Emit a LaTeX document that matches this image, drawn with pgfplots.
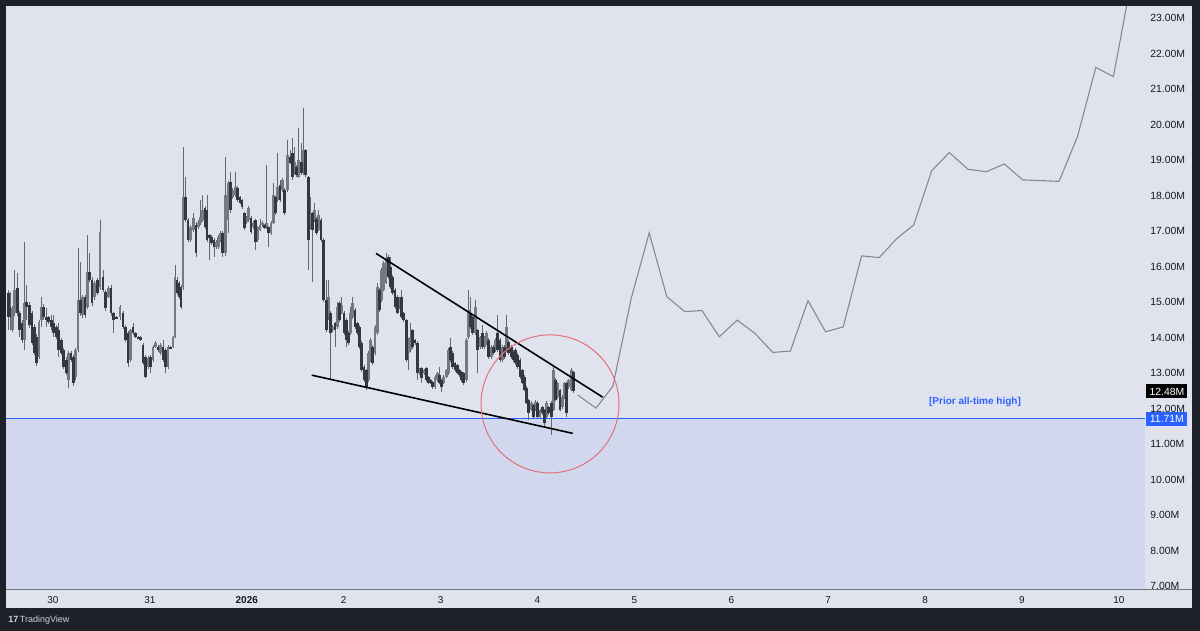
\documentclass[border=0pt]{standalone}
\usepackage{fontspec}
\setmainfont{Liberation Sans}
\usepackage{pgfplots}
\pgfplotsset{compat=1.18}
\usepackage{pgfplotstable}
\definecolor{frame}{RGB}{30,33,42}
\definecolor{panel}{RGB}{224,227,238}
\definecolor{zone}{RGB}{209,216,238}
\definecolor{tvblue}{RGB}{41,98,255}
\definecolor{txt}{RGB}{19,23,34}
\definecolor{upcol}{RGB}{118,121,129}
\definecolor{dncol}{RGB}{52,55,63}
\definecolor{wickc}{RGB}{100,103,111}
\definecolor{proj}{RGB}{134,137,147}
\definecolor{ring}{RGB}{226,112,122}
\definecolor{sep}{RGB}{110,114,125}

\pgfplotstableread{
t o hi lo c
-11.07 15.26 15.34 14.21 14.57
-10.65 14.86 15.28 14.21 14.57
-10.08 14.21 14.90 14.15 14.83
-9.49 14.69 15.90 14.62 15.34
-8.87 15.40 15.82 14.62 14.69
-8.30 14.69 14.75 14.01 14.21
-7.68 14.41 14.50 13.85 13.93
-7.06 13.93 16.69 13.65 14.98
-6.49 15.00 15.48 14.49 14.86
-5.87 14.92 15.00 14.28 14.35
-5.20 14.69 14.75 13.78 13.85
-4.58 14.30 14.38 13.50 13.57
-4.01 14.01 14.10 13.20 13.28
-3.47 13.45 14.50 13.40 14.45
-2.90 14.49 15.14 14.30 14.86
-2.28 14.86 14.95 14.50 14.57
-1.68 14.57 14.83 14.30 14.49
-1.07 14.57 14.62 14.38 14.44
-0.42 14.49 14.63 14.21 14.30
0.20 14.41 14.63 14.01 14.13
0.79 14.30 14.36 13.95 14.01
1.41 14.21 14.41 13.45 13.65
2.06 13.93 14.00 13.50 13.57
2.67 13.65 13.70 13.10 13.17
3.34 13.37 13.45 12.95 13.00
3.91 12.80 13.62 12.58 13.57
4.46 13.57 13.62 13.30 13.37
5.13 13.45 13.50 12.62 12.72
5.57 12.89 13.70 12.80 13.65
6.19 13.65 16.52 13.60 15.06
6.76 15.06 16.13 14.60 14.69
7.38 14.63 15.20 14.55 15.14
7.93 15.14 15.20 14.55 14.63
8.47 14.86 16.89 14.80 15.84
9.04 15.84 16.38 15.55 15.62
9.66 15.62 15.70 14.90 14.98
10.33 15.14 15.60 15.05 15.54
10.95 15.62 15.68 15.20 15.26
11.64 15.42 17.31 15.35 16.97
12.38 15.70 15.90 15.28 15.34
13.05 15.28 15.35 14.75 14.83
13.70 15.14 15.45 15.10 15.40
14.37 15.40 15.48 14.62 14.69
15.03 14.69 14.72 14.13 14.49
15.78 14.57 14.60 14.52 14.55
16.59 14.57 14.92 14.50 14.86
17.34 14.69 14.75 14.25 14.30
17.96 14.30 14.35 13.88 13.93
18.58 14.13 14.18 13.17 13.28
19.20 13.37 14.25 13.30 14.21
19.81 14.30 14.41 14.08 14.13
20.43 14.13 14.16 13.98 14.01
21.05 14.01 14.04 13.95 13.98
21.67 14.01 14.04 13.90 13.93
22.29 13.79 13.85 13.22 13.28
22.91 13.45 13.50 12.86 12.89
23.53 13.17 13.48 13.10 13.42
24.15 13.45 13.50 13.00 13.17
24.77 13.37 13.78 13.30 13.73
25.39 13.73 13.90 13.70 13.85
26.01 13.73 13.78 13.60 13.65
26.63 13.57 13.85 13.50 13.79
27.24 13.73 13.93 13.30 13.37
27.86 13.65 13.70 13.00 13.17
28.48 13.17 13.78 13.10 13.73
29.10 13.73 13.75 13.68 13.70
29.72 13.73 14.05 13.70 14.01
30.22 14.01 16.04 13.98 15.70
30.71 15.62 15.70 15.20 15.26
31.21 15.54 15.60 15.08 15.14
31.70 15.42 15.48 14.80 14.86
32.20 15.42 19.37 15.35 17.96
32.82 17.96 18.52 17.25 17.31
33.44 17.31 17.38 16.68 16.75
34.06 16.75 17.18 16.70 17.11
34.87 17.03 17.51 16.98 17.37
35.42 17.17 17.25 16.27 16.38
35.99 17.11 17.30 17.05 17.23
36.53 17.23 17.87 17.18 17.39
37.10 17.31 18.01 17.25 17.59
37.65 17.65 17.70 17.05 17.11
38.14 17.59 18.01 16.70 16.75
38.76 16.89 16.92 16.18 16.80
39.31 16.83 16.88 16.60 16.66
39.88 16.75 16.80 16.27 16.55
40.37 16.55 16.75 16.50 16.69
40.94 16.55 16.88 16.50 16.83
41.49 16.75 17.00 16.70 16.94
42.06 16.94 17.00 16.27 16.38
42.68 16.38 19.08 16.30 18.01
43.34 17.31 18.40 16.94 18.35
43.96 18.38 18.66 17.50 17.59
44.53 17.96 18.20 17.90 18.15
45.15 18.01 18.66 17.95 18.24
45.77 18.21 18.26 17.82 17.87
46.32 17.96 18.00 17.75 17.79
46.81 17.87 17.90 17.62 17.67
47.38 17.51 17.55 17.03 17.09
47.88 17.25 17.42 17.20 17.39
48.47 17.31 17.70 17.25 17.65
49.04 17.37 17.42 16.92 16.97
49.54 17.11 17.28 17.05 17.23
50.16 17.31 17.35 16.46 16.69
50.73 16.75 17.15 16.70 17.11
51.27 17.03 17.34 17.00 17.17
51.84 17.17 17.28 17.12 17.23
52.33 17.17 17.20 17.05 17.09
52.88 17.11 18.86 17.05 17.23
53.45 17.11 17.15 16.55 16.94
53.99 16.94 17.28 16.90 17.23
54.54 17.23 18.35 17.20 18.01
55.11 17.96 18.00 17.45 17.51
55.65 17.87 19.20 17.82 18.24
56.22 18.29 18.44 17.82 17.87
56.77 18.15 18.50 18.10 18.44
57.39 18.15 18.20 17.45 17.51
58.16 18.15 19.56 18.10 19.14
58.70 19.08 19.28 18.88 18.92
59.25 19.20 19.62 18.45 18.52
59.82 18.66 19.37 18.60 18.94
60.36 18.80 18.85 18.52 18.58
60.88 18.52 19.90 18.48 19.00
61.48 18.94 19.48 18.58 18.63
62.00 18.63 20.46 18.58 19.28
62.54 19.28 19.32 18.52 18.58
63.21 18.52 18.56 15.90 16.75
63.65 17.11 17.96 17.05 17.51
64.20 17.51 17.55 15.56 17.03
64.77 17.31 17.79 17.25 17.59
65.31 17.34 17.40 16.90 16.94
65.76 17.03 17.59 17.00 17.45
66.38 17.31 17.36 16.70 16.75
67.05 16.75 16.80 15.00 15.06
67.67 15.06 15.62 14.15 14.21
68.19 14.57 15.62 14.50 15.14
68.73 14.69 14.75 12.80 14.13
69.30 14.21 14.35 14.15 14.30
69.85 14.41 14.45 13.73 14.21
70.39 14.30 15.00 14.25 14.86
70.96 14.98 15.02 14.45 14.49
71.50 14.69 15.14 14.65 14.92
72.07 14.69 14.75 14.08 14.13
72.62 14.49 14.55 13.73 13.93
73.14 14.13 14.18 13.80 13.85
73.69 14.13 14.86 14.08 14.69
74.25 14.57 15.14 14.52 14.98
74.80 14.77 14.82 14.25 14.30
75.34 14.41 14.45 14.08 14.13
75.91 14.30 14.35 13.68 13.73
76.46 13.85 13.90 13.02 13.08
77.03 13.17 13.22 12.75 12.80
77.70 13.08 13.12 12.52 12.61
78.09 12.80 13.62 12.75 13.57
78.64 13.37 13.98 13.30 13.93
79.21 13.73 13.78 13.22 13.28
79.75 13.57 14.35 13.50 14.30
80.30 14.13 15.54 14.08 15.42
80.87 15.34 15.40 14.72 14.77
81.36 15.06 15.95 15.00 15.90
81.86 15.34 16.15 15.30 16.10
82.48 15.54 16.38 15.50 16.18
83.05 16.27 16.32 15.65 15.70
83.59 15.98 16.27 15.38 15.42
84.16 15.70 15.75 15.20 15.26
84.71 15.34 15.40 14.80 14.86
85.25 15.14 15.20 14.65 14.69
85.82 14.86 15.15 14.80 15.11
86.37 15.14 15.34 14.52 14.57
86.89 14.69 14.72 14.45 14.49
87.48 14.49 14.52 13.30 13.37
88.00 13.57 13.98 13.08 13.93
88.55 13.65 14.41 13.60 14.01
89.12 14.21 14.25 13.68 13.73
89.66 13.93 13.96 13.80 13.85
90.21 13.85 13.90 12.80 13.00
90.78 13.00 13.15 12.95 13.11
91.33 13.14 13.18 12.72 12.86
91.89 13.00 13.12 12.95 13.08
92.44 13.14 13.18 12.75 12.80
92.96 12.89 12.92 12.68 12.72
93.50 12.80 12.83 12.68 12.72
94.07 12.75 12.78 12.55 12.61
94.61 12.61 12.93 12.56 12.89
95.16 12.80 13.04 12.76 13.00
95.73 12.94 13.17 12.68 12.72
96.27 12.80 12.84 12.47 12.61
96.79 12.72 12.93 12.68 12.89
97.38 12.89 13.12 12.85 13.08
97.91 13.00 13.70 12.95 13.65
98.45 13.73 13.99 13.30 13.37
99.02 13.57 13.62 13.12 13.17
99.57 13.28 13.32 13.04 13.08
100.11 13.22 13.26 12.96 13.00
100.68 13.08 13.12 12.90 12.94
101.23 13.03 13.06 12.76 12.80
101.75 13.00 13.04 12.66 12.72
102.34 12.80 13.98 12.75 13.93
102.86 14.01 15.34 13.95 14.77
103.41 14.69 15.14 14.25 14.30
103.98 14.57 14.62 14.08 14.13
104.60 14.13 15.06 14.08 14.86
105.14 14.21 14.25 13.00 13.65
105.76 13.73 14.05 13.68 14.01
106.31 14.13 14.35 13.68 13.73
106.87 13.73 14.05 13.68 14.01
107.42 13.85 14.18 13.80 14.13
107.94 13.93 13.98 13.40 13.45
108.53 13.45 13.78 13.40 13.73
109.05 13.73 13.78 13.52 13.57
109.60 13.65 13.98 13.60 13.93
110.16 14.13 14.63 13.60 13.65
110.71 13.93 13.98 13.30 13.37
111.25 13.37 13.78 13.30 13.73
111.82 13.73 13.78 13.40 13.45
112.37 13.65 14.63 13.60 14.30
112.89 13.87 13.92 13.52 13.57
113.48 13.73 13.78 13.40 13.45
114.01 13.59 13.64 13.32 13.37
114.55 13.65 13.70 13.22 13.28
115.12 13.51 13.56 13.12 13.17
115.67 13.37 13.42 12.84 12.89
116.21 13.08 13.12 12.68 12.72
116.78 12.89 12.93 12.48 12.52
117.33 12.58 12.62 12.12 12.16
117.84 12.24 12.28 11.68 11.87
118.44 11.96 12.20 11.92 12.16
118.96 12.10 12.14 11.72 11.76
119.51 11.96 12.23 11.92 12.19
120.08 12.16 12.20 11.72 11.76
120.62 11.76 12.00 11.72 11.96
121.17 12.04 12.08 11.83 11.87
121.74 11.96 12.00 11.48 11.59
122.28 11.76 12.20 11.72 12.16
122.80 12.04 12.08 11.83 11.87
123.40 12.16 12.20 11.25 11.76
123.92 11.96 13.17 11.92 13.08
124.46 12.80 12.85 12.20 12.24
125.03 12.33 12.76 12.28 12.72
125.57 12.52 12.56 11.92 11.96
126.12 12.04 12.37 12.00 12.33
126.69 12.33 12.76 12.28 12.72
127.23 12.72 12.76 11.76 11.87
127.75 12.61 12.84 12.56 12.80
128.35 12.52 13.14 12.48 13.08
128.86 13.03 13.06 12.44 12.48
}\candles

\pgfplotstableread{
t v
129.96 12.38
134.49 12.01
138.68 12.63
143.21 15.10
147.67 16.95
152.03 15.15
156.48 14.73
160.74 14.76
165.03 14.02
169.46 14.49
173.82 14.12
178.28 13.58
182.64 13.62
187.00 15.04
191.36 14.16
195.72 14.30
200.27 16.30
204.63 16.25
208.99 16.79
213.18 17.17
217.64 18.70
221.99 19.21
226.63 18.74
231.18 18.67
235.64 18.89
240.17 18.44
249.19 18.40
253.75 19.66
258.28 21.61
262.64 21.35
265.91 23.34
}\projtab

\begin{document}
\begin{tikzpicture}
\fill[frame] (0,0) rectangle (600pt,315.5pt);
\fill[panel] (3pt,11.5pt) rectangle (596pt,312.5pt);
\begin{axis}[
  at={(3pt,21pt)}, anchor=south west,
  scale only axis, width=569.5pt, height=291.5pt,
  xmin=-11.64, xmax=270.47, ymin=6.915, ymax=23.34,
  clip=false,
  axis line style={draw=none},
  major tick length=0pt,
  tick style={draw=none},
  xtick={0,24,...,264},
  xticklabels={30,31,\textbf{2026},2,3,4,5,6,7,8,9,10},
  xticklabel style={anchor=center, yshift=-5.5pt, inner sep=0pt, font=\fontsize{5}{6}\selectfont, text=txt},
  ytick={7,8,...,23},
  yticklabel pos=right,
  yticklabel={\pgfmathprintnumber[fixed,fixed zerofill,precision=2,assume math mode=true]{\tick}M},
  yticklabel style={anchor=west, inner sep=0pt, xshift=2.5pt, font=\fontsize{5.2}{6}\selectfont, text=txt},
]
\addplot[draw=none, fill=zone, forget plot] coordinates {(-11.64,6.915) (270.47,6.915) (270.47,11.71) (-11.64,11.71)} -- cycle;
\addplot[tvblue, line width=0.6pt, forget plot] coordinates {(-11.64,11.71) (270.47,11.71)};
% wicks
\addplot[draw=none, forget plot, error bars/.cd, y dir=plus, y explicit, error mark=none,
  error bar style={draw=wickc, line width=0.45pt}]
  table[x=t, y=lo, y error plus expr=\thisrow{hi}-\thisrow{lo}] {\candles};
% up bodies
\addplot[draw=none, forget plot, restrict expr to domain={\thisrow{c}-\thisrow{o}}{0:20},
  error bars/.cd, y dir=both, y explicit, error mark=none,
  error bar style={draw=upcol, line width=1.35pt}]
  table[x=t, y expr={(\thisrow{o}+\thisrow{c})/2}, y error expr={max(abs(\thisrow{c}-\thisrow{o})/2,0.015)}] {\candles};
% down bodies
\addplot[draw=none, forget plot, restrict expr to domain={\thisrow{c}-\thisrow{o}}{-20:-0.0001},
  error bars/.cd, y dir=both, y explicit, error mark=none,
  error bar style={draw=dncol, line width=1.35pt}]
  table[x=t, y expr={(\thisrow{o}+\thisrow{c})/2}, y error expr={max(abs(\thisrow{c}-\thisrow{o})/2,0.015)}] {\candles};
% projection
\addplot[proj, line width=0.55pt, forget plot] table[x=t, y=v] {\projtab};
% wedge
\addplot[black, line width=0.8pt, forget plot] coordinates {(80.00,16.37) (136.15,12.32)};
\addplot[black, line width=0.8pt, forget plot] coordinates {(64.07,12.94) (128.72,11.30)};
\draw[ring, line width=0.5pt] (axis cs:123.10,12.13) circle[radius=34.5pt];
\node[text=tvblue, font=\bfseries\fontsize{5}{6}\selectfont, inner sep=0pt] at (axis cs:228.36,12.18) {[Prior all-time high]};
\coordinate (pa) at (axis cs:270.47,12.48);
\coordinate (pb) at (axis cs:270.47,11.71);
\end{axis}
\draw[sep, line width=0.6pt] (3pt,20.6pt) -- (596pt,20.6pt);
\node[anchor=west, fill=black, text=white, inner sep=0pt, minimum width=20.5pt, minimum height=7pt, font=\fontsize{5.2}{6}\selectfont, xshift=0.5pt] at (pa) {12.48M};
\node[anchor=west, fill=tvblue, text=white, inner sep=0pt, minimum width=20.5pt, minimum height=7pt, font=\fontsize{5.2}{6}\selectfont, xshift=0.5pt] at (pb) {11.71M};
\node[anchor=west, text={rgb,255:red,209;green,212;blue,220}, inner sep=0pt, font=\fontsize{4.5}{5}\selectfont] at (4pt,5.5pt) {\textbf{17}\,TradingView};
\pgfresetboundingbox
\useasboundingbox (0,0) rectangle (600pt,315.5pt);
\end{tikzpicture}
\end{document}
